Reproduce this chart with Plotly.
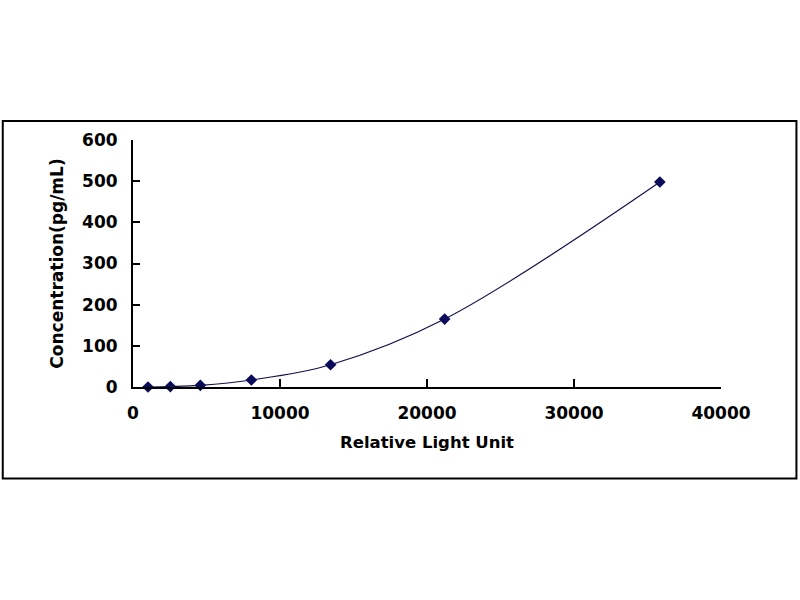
import plotly.graph_objects as go

# standard curve points
rlu = [1020, 2540, 4580, 8050, 13440, 21200, 35840]
conc = [0, 1, 4, 17, 54, 165, 498]

x_ticks = [0, 10000, 20000, 30000, 40000]
y_ticks = [0, 100, 200, 300, 400, 500, 600]

navy = "#0b0b5c"
font_name = "DejaVu Sans"

fig = go.Figure()

fig.add_trace(go.Scatter(
    x=rlu, y=conc,
    mode="lines+markers",
    line=dict(color="#10104a", width=1.2, shape="spline", smoothing=1),
    marker=dict(symbol="diamond", size=9, color=navy),
    cliponaxis=False,
    showlegend=False,
))

fig.update_xaxes(
    range=[0, 40000], tickvals=x_ticks, ticktext=[str(v) for v in x_ticks],
    showgrid=False, zeroline=False,
    showline=True, linecolor="black", linewidth=2,
    ticks="inside", ticklen=8, tickwidth=2, tickcolor="black",
    ticklabelstandoff=10,
    tickfont=dict(family=font_name, size=17, color="black", weight="bold"),
    title=dict(text="Relative Light Unit", standoff=14,
               font=dict(family=font_name, size=16.5, color="black", weight="bold")),
)
fig.update_yaxes(
    range=[0, 600], tickvals=y_ticks, ticktext=[str(v) for v in y_ticks],
    showgrid=False, zeroline=False,
    showline=True, linecolor="black", linewidth=2,
    ticks="inside", ticklen=7, tickwidth=2, tickcolor="black",
    ticklabelstandoff=10,
    tickfont=dict(family=font_name, size=17, color="black", weight="bold"),
    title=dict(text="Concentration(pg/mL)", standoff=14,
               font=dict(family=font_name, size=17, color="black", weight="bold")),
)

# outer frame around the whole chart
fig.add_shape(type="rect", xref="paper", yref="paper",
              x0=-0.2215, x1=1.1283, y0=-0.370, y1=1.077,
              line=dict(color="black", width=2), layer="below")

fig.update_layout(
    width=800, height=600,
    margin=dict(l=133, r=79, t=140, b=213),
    paper_bgcolor="white", plot_bgcolor="white",
)

# drop the default page margin so the figure sits at the window corner
fig.write_html("out.html", config={"displayModeBar": False},
               post_script="document.body.style.margin='0';")
